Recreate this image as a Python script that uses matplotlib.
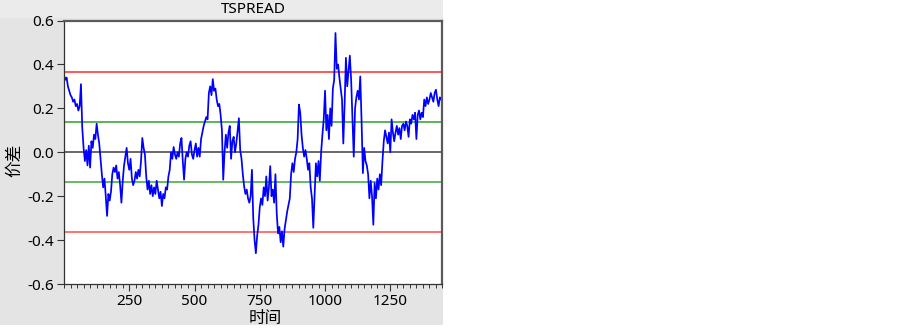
import numpy as np
import matplotlib
matplotlib.use('Agg')
import matplotlib.pyplot as plt
from matplotlib.patches import Rectangle
from matplotlib.ticker import MultipleLocator

plt.rcParams['font.family'] = ['Noto Sans', 'Noto Sans CJK SC', 'DejaVu Sans']
plt.rcParams['axes.unicode_minus'] = False

title = 'TSPREAD'
x_label = '时间'
y_label = '价差'

step = 5
spread = [
    0.35, 0.33, 0.34, 0.30, 0.28, 0.26, 0.25, 0.23, 0.24, 0.21,
    0.22, 0.19, 0.21, 0.31, 0.11, 0.02, -0.04, 0.01, -0.06, 0.03,
    -0.07, 0.05, 0.02, 0.08, 0.06, 0.13, 0.08, 0.04, -0.03, -0.10,
    -0.16, -0.12, -0.20, -0.29, -0.19, -0.22, -0.18, -0.10, -0.07, -0.09,
    -0.06, -0.12, -0.09, -0.15, -0.23, -0.13, -0.06, -0.02, 0.02, -0.05,
    -0.08, -0.03, -0.12, -0.15, -0.13, -0.09, -0.12, -0.08, -0.11, -0.04,
    0.065, 0.02, -0.01, -0.11, -0.17, -0.13, -0.19, -0.15, -0.20, -0.16,
    -0.19, -0.13, -0.17, -0.21, -0.18, -0.245, -0.19, -0.21, -0.16, -0.17,
    -0.11, -0.08, 0.0, -0.03, 0.024, -0.01, -0.03, 0.0, -0.02, 0.04,
    0.065, -0.04, -0.125, -0.03, 0.0, -0.02, 0.03, 0.05, -0.01, -0.03,
    0.01, 0.04, -0.02, 0.02, -0.02, 0.06, 0.09, 0.12, 0.14, 0.16,
    0.15, 0.27, 0.30, 0.26, 0.333, 0.28, 0.29, 0.24, 0.21, 0.22,
    0.17, 0.10, -0.125, 0.0, 0.08, 0.02, 0.09, 0.12, -0.03, 0.05,
    0.07, 0.0, 0.04, 0.10, 0.155, 0.01, -0.03, -0.10, -0.155, -0.19,
    -0.17, -0.21, -0.23, -0.20, -0.08, -0.30, -0.40, -0.46, -0.38, -0.33,
    -0.25, -0.21, -0.24, -0.16, -0.20, -0.11, -0.22, -0.16, -0.063, -0.20,
    -0.17, -0.23, -0.10, -0.28, -0.37, -0.34, -0.41, -0.36, -0.43, -0.35,
    -0.31, -0.27, -0.24, -0.21, -0.10, -0.05, -0.09, -0.03, 0.0, 0.06,
    0.217, 0.18, 0.08, 0.02, -0.02, 0.01, -0.03, -0.08, -0.05, -0.16,
    -0.21, -0.344, -0.20, -0.05, -0.11, -0.04, -0.13, 0.0, 0.08, 0.15,
    0.28, 0.10, 0.17, 0.06, 0.20, 0.12, 0.29, 0.33, 0.543, 0.38,
    0.40, 0.34, 0.29, 0.24, 0.04, 0.22, 0.43, 0.30, 0.37, 0.44,
    0.33, 0.15, -0.02, 0.20, 0.25, 0.28, 0.24, 0.345, 0.14, -0.095,
    0.02, -0.04, -0.06, -0.10, -0.21, -0.13, -0.20, -0.33, -0.14, -0.21,
    -0.12, -0.17, -0.10, -0.15, -0.04, 0.05, 0.10, 0.07, 0.04, 0.09,
    0.0, 0.15, 0.09, 0.05, 0.09, 0.12, 0.08, 0.11, 0.06, 0.12,
    0.13, 0.10, 0.14, 0.12, 0.07, 0.15, 0.13, 0.17, 0.15, 0.18,
    0.06, 0.17, 0.19, 0.15, 0.18, 0.16, 0.24, 0.21, 0.25, 0.22,
    0.24, 0.27, 0.25, 0.23, 0.27, 0.285, 0.24, 0.21, 0.25, 0.24,
]
t = np.arange(len(spread)) * step

outer_band = 0.365
inner_band = 0.137

fig = plt.figure(figsize=(9.03, 3.28), dpi=100)
W, H = 903, 328

# grey panel + title strip (behind the axes)
fig.patches.append(Rectangle((0, 3 / H), 443 / W, 1 - 3 / H, transform=fig.transFigure,
                             facecolor='#e4e4e4', edgecolor='none', zorder=-10))
fig.patches.append(Rectangle((0, 1 - 18 / H), 443 / W, 18 / H, transform=fig.transFigure,
                             facecolor='#ebebeb', edgecolor='none', zorder=-9))

ax = fig.add_axes([64 / W, 1 - 284 / H, (442.5 - 64) / W, (284 - 20.5) / H])
ax.set_zorder(5)
ax.set_facecolor('white')

ax.axhline(outer_band, color='#ff3b3b', lw=1.2)
ax.axhline(-outer_band, color='#ff5a5a', lw=1.2)
ax.axhline(inner_band, color='#2ca02c', lw=1.1)
ax.axhline(-inner_band, color='#3aa83a', lw=1.1)
ax.axhline(0.0, color='#404040', lw=1.1)
ax.plot(t, spread, color='#0000ff', lw=1.25)

ax.set_xlim(0, 1450)
ax.set_ylim(-0.6, 0.6)
ax.xaxis.set_major_locator(MultipleLocator(250))
ax.xaxis.set_minor_locator(MultipleLocator(25))
ax.set_xticks([250, 500, 750, 1000, 1250])
ax.set_yticks(np.arange(-0.6, 0.61, 0.2))
ax.set_yticklabels(['-0.6', '-0.4', '-0.2', '0.0', '0.2', '0.4', '0.6'])
ax.tick_params(axis='both', which='major', direction='out', length=5, width=0.8,
               labelsize=11, color='#333333')
ax.tick_params(axis='x', which='minor', direction='out', length=3, width=0.7, color='#333333')
ax.tick_params(axis='x', pad=2)
ax.tick_params(axis='y', pad=2)

for side in ['left', 'bottom']:
    ax.spines[side].set_color('#333333')
    ax.spines[side].set_linewidth(0.9)
for side in ['top', 'right']:
    ax.spines[side].set_color('#5a5a5a')
    ax.spines[side].set_linewidth(1.6)

fig.text(253 / W, 1 - 9.5 / H, title, ha='center', va='center', fontsize=11)
fig.text(265 / W, 1 - 318 / H, x_label, ha='center', va='center', fontsize=12,
         family=['Noto Sans CJK SC', 'DejaVu Sans'])
fig.text(15 / W, 1 - 160 / H, y_label, ha='center', va='center', fontsize=12, rotation=90,
         family=['Noto Sans CJK SC', 'DejaVu Sans'])

fig.savefig('out.png', dpi=100)
